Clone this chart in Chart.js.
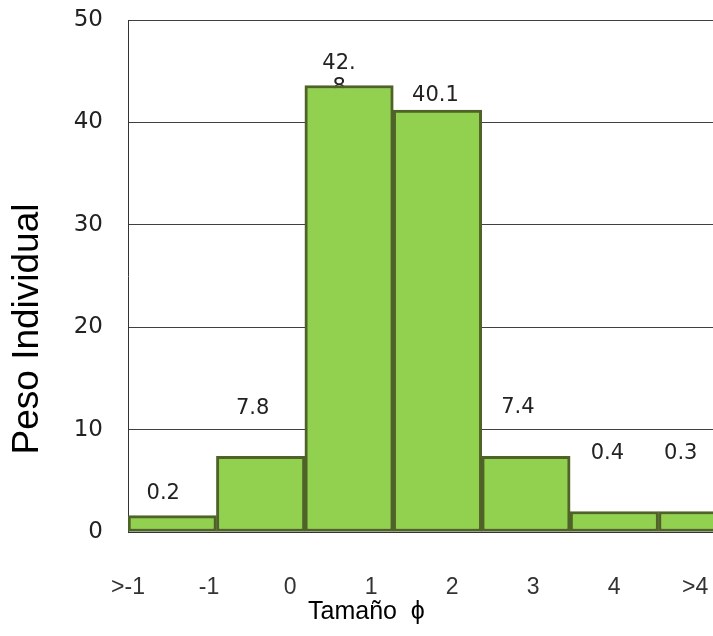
<!DOCTYPE html>
<html>
<head>
<meta charset="utf-8">
<script src="https://cdn.jsdelivr.net/npm/chart.js@4/dist/chart.umd.min.js"></script>
<style>
  html, body { margin: 0; padding: 0; background: #fff; overflow: hidden; }
  #wrap { width: 760px; height: 636px; }
</style>
</head>
<body>
<div id="wrap"><canvas id="histChart" width="760" height="636"></canvas></div>
<script>
// data
const bins = ["<-1", "-1 a 0", "0 a 1", "1 a 2", "2 a 3", "3 a 4", ">4"];
const barHeights = [1.6, 7.4, 43.6, 41.2, 7.4, 2.0, 2.0];
const valueLabels = ["0.2", "7.8", "42.\n8", "40.1", "7.4", "0.4", "0.3"];
const tickLabels = [">-1", "-1", "0", "1", "2", "3", "4", ">4"];
const yTicks = [0, 10, 20, 30, 40, 50];

const yTitle = "Peso Individual";
const xTitle = "Tamaño  ϕ";

/* value labels sit behind the bars (the "8" of 42.8 is hidden by its bar) */
const valueLabelPlugin = {
  id: "valueLabels",
  beforeDatasetsDraw(chart, args, opts) {
    const ctx = chart.ctx;
    const meta = chart.getDatasetMeta(0);
    ctx.save();
    ctx.font = opts.font;
    ctx.fillStyle = opts.color;
    ctx.textAlign = "center";
    ctx.textBaseline = "middle";
    meta.data.forEach((bar, i) => {
      const lines = valueLabels[i].split("\n");
      const y0 = bar.y - opts.lift[i];
      lines.forEach((line, k) => {
        ctx.fillText(line, bar.x + opts.shiftX[i], y0 + k * opts.lineHeight);
      });
    });
    ctx.restore();
  }
};

/* axis titles, placed like the original */
const titlePlugin = {
  id: "axisTitles",
  afterDraw(chart) {
    const ctx = chart.ctx;
    ctx.save();
    ctx.fillStyle = "#000";
    ctx.textBaseline = "middle";

    ctx.font = "37px 'Liberation Sans', Arial, sans-serif";
    ctx.textAlign = "center";
    ctx.translate(28, 329);
    ctx.rotate(-Math.PI / 2);
    ctx.fillText(yTitle, 0, 0);
    ctx.setTransform(1, 0, 0, 1, 0, 0);

    ctx.font = "25px 'Liberation Sans', Arial, sans-serif";
    ctx.textAlign = "left";
    ctx.fillText(xTitle, 308, 612);
    ctx.restore();
  }
};

new Chart(document.getElementById("histChart"), {
  type: "bar",
  data: {
    labels: bins,
    datasets: [{
      data: barHeights,
      backgroundColor: "#92d050",
      borderColor: "#4f6228",
      borderWidth: 3,
      borderSkipped: false,
      barPercentage: 1,
      categoryPercentage: 1
    }]
  },
  options: {
    responsive: false,
    animation: false,
    layout: { padding: { top: 20, left: 50, right: 13, bottom: 29 } },
    plugins: {
      legend: { display: false },
      tooltip: { enabled: false },
      valueLabels: {
        font: "21px 'DejaVu Sans', Verdana, sans-serif",
        color: "#222",
        lift: [22, 48, 22, 15, 49, 58, 58],
        shiftX: [-9, -8, -10, -2, -8, -7, -22],
        lineHeight: 24
      }
    },
    scales: {
      x: { display: false, offset: true },
      xLabels: {
        type: "linear",
        position: "bottom",
        offset: false,
        min: 0,
        max: 7.64,
        afterBuildTicks: s => { s.ticks = tickLabels.map((t, i) => ({ value: i })); },
        afterFit: s => { s.height = 75; },
        ticks: {
          callback: (v, i) => tickLabels[i],
          font: { family: "'Liberation Sans', Arial, sans-serif", size: 23 },
          color: "#333",
          padding: 42,
          maxRotation: 0,
          autoSkip: false
        },
        grid: { display: false, drawTicks: false, offset: false },
        border: { display: true, color: "#333", width: 1 }
      },
      y: {
        min: 0,
        max: 50,
        afterBuildTicks: s => { s.ticks = yTicks.map(v => ({ value: v })); },
        afterFit: s => { s.width = 78; s.paddingTop = 0; s.paddingBottom = 0; },
        ticks: {
          font: { family: "'DejaVu Sans', Verdana, sans-serif", size: 23 },
          color: "#222",
          padding: 25
        },
        grid: { color: "#404040", lineWidth: 1, drawTicks: false },
        border: { display: true, color: "#333", width: 1 }
      }
    }
  },
  plugins: [valueLabelPlugin, titlePlugin]
});
</script>
</body>
</html>
